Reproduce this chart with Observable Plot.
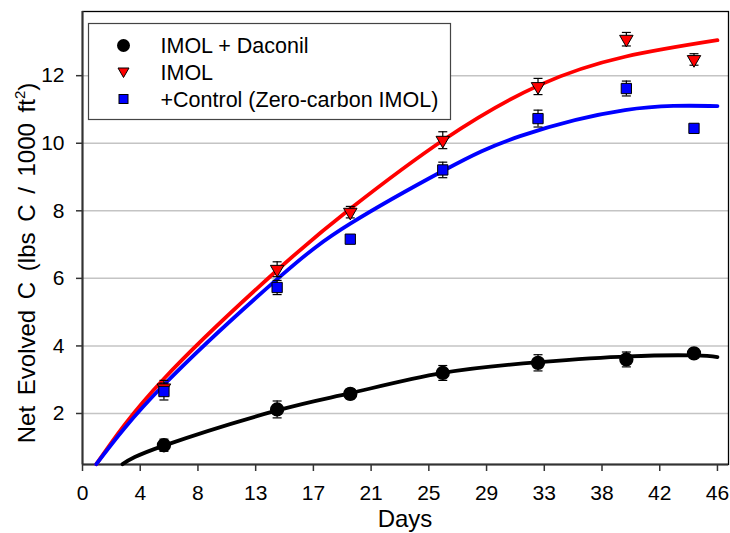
<!DOCTYPE html>
<html>
<head>
<meta charset="utf-8">
<script src="https://cdn.jsdelivr.net/npm/d3@7"></script>
<script src="https://cdn.jsdelivr.net/npm/@observablehq/plot@0.6"></script>
<style>
  html, body { margin: 0; padding: 0; background: #fff; }
  #chart svg { display: block; }
</style>
</head>
<body>
<div id="chart"></div>
<script>
// Sampling days for the three treatments
const days = [5.9, 14.1, 19.4, 26.1, 33.0, 39.4, 44.3];

// IMOL + Daconil
const daconil    = [1.06, 2.12, 2.58, 3.20, 3.50, 3.60, 3.78];
const daconilErr = [0.18, 0.25, 0.15, 0.22, 0.24, 0.22, 0.10];

// IMOL
const imol    = [2.76, 6.27, 7.96, 10.09, 11.68, 13.08, 12.48];
const imolErr = [0.22, 0.22, 0.17, 0.25, 0.24, 0.20, 0.17];

// +Control (zero-carbon IMOL)
const control    = [2.65, 5.73, 7.16, 9.21, 10.73, 11.62, 10.44];
const controlErr = [0.25, 0.21, 0.12, 0.23, 0.25, 0.22, 0.12];

// Fitted regression curves
const daconilFitDays = [2.9, 5.9, 14.1, 19.4, 26.1, 33.1, 39.5, 44.3, 46];
const daconilFit     = [0.50, 1.05, 2.09, 2.60, 3.20, 3.52, 3.69, 3.72, 3.67];
const imolFitDays    = [1, 5.9, 14.1, 19.4, 26.2, 33.1, 39.3, 46];
const imolFit        = [0.50, 3.03, 6.24, 8.06, 10.11, 11.72, 12.56, 13.05];
const controlFitDays = [1, 5.9, 14.0, 19.4, 26.2, 31.7, 39.3, 46];
const controlFit     = [0.50, 2.85, 5.94, 7.62, 9.20, 10.21, 10.98, 11.10];

// Axis ticks
const xTickLabels = ["0", "4", "8", "13", "17", "21", "25", "29", "33", "38", "42", "46"];
const xTickValues = xTickLabels.map((_, i) => 46 * i / 11);
const yTickValues = [2, 4, 6, 8, 10, 12];

const seriesNames = ["IMOL + Daconil", "IMOL", "+Control (Zero-carbon IMOL)"];

const toPoints = (xs, ys, err) => xs.map((x, i) => ({
  x, y: ys[i], lo: err ? ys[i] - err[i] : null, hi: err ? ys[i] + err[i] : null
}));
const ptsDaconil = toPoints(days, daconil, daconilErr);
const ptsImol = toPoints(days, imol, imolErr);
const ptsControl = toPoints(days, control, controlErr);
const allPts = [...ptsDaconil, ...ptsImol, ...ptsControl];

// short horizontal line used as error-bar cap
const capSymbol = { draw(ctx) { ctx.moveTo(-4.5, 0); ctx.lineTo(4.5, 0); } };

const font = "'Liberation Sans', Arial, Helvetica, sans-serif";

const chart = Plot.plot({
  width: 730,
  height: 533,
  marginLeft: 82,
  marginTop: 11,
  marginRight: 2,
  marginBottom: 69,
  style: { fontFamily: font, fontSize: "21px", background: "#fff", color: "#000", overflow: "visible" },
  x: { domain: [0, 46.8] },
  y: { domain: [0.49, 13.9] },
  marks: [
    Plot.gridY(yTickValues, { stroke: "#c4c4c4", strokeOpacity: 1, strokeWidth: 1.5 }),
    Plot.frame({ stroke: "#000", strokeWidth: 1.3 }),
    Plot.axisX(xTickValues, {
      tickSize: 7, tickPadding: 14, stroke: "#333", strokeWidth: 1.5,
      tickFormat: (d, i) => xTickLabels[i], label: null, fontSize: 21
    }),
    Plot.axisY(yTickValues, {
      tickSize: 6, tickPadding: 12, stroke: "#333", strokeWidth: 1.5,
      label: null, fontSize: 21
    }),
    Plot.ruleX([0], { stroke: "#333", strokeWidth: 2 }),
    Plot.ruleY([0.49], { stroke: "#333", strokeWidth: 2 }),

    // fitted curves
    Plot.line(toPoints(daconilFitDays, daconilFit), { x: "x", y: "y", stroke: "#000", strokeWidth: 3.8, curve: "natural" }),
    Plot.line(toPoints(imolFitDays, imolFit), { x: "x", y: "y", stroke: "#ff0000", strokeWidth: 3.8, curve: "natural" }),
    Plot.line(toPoints(controlFitDays, controlFit), { x: "x", y: "y", stroke: "#0000ff", strokeWidth: 3.8, curve: "natural" }),

    // error bars
    Plot.ruleX(allPts, { x: "x", y1: "lo", y2: "hi", stroke: "#000", strokeWidth: 1.2 }),
    Plot.dot(allPts, { x: "x", y: "hi", symbol: capSymbol, fill: "none", stroke: "#000", strokeWidth: 1.2 }),
    Plot.dot(allPts, { x: "x", y: "lo", symbol: capSymbol, fill: "none", stroke: "#000", strokeWidth: 1.2 }),

    // observations
    Plot.dot(ptsDaconil, { x: "x", y: "y", symbol: "circle", r: 6.4, fill: "#000", stroke: "#000" }),
    Plot.dot(ptsImol, { x: "x", y: "y", symbol: "triangle", r: 5, rotate: 180, fill: "#ff0000", stroke: "#000", strokeWidth: 1 }),
    Plot.dot(ptsControl, { x: "x", y: "y", symbol: "square", r: 5.8, fill: "#0000ff", stroke: "#000", strokeWidth: 1 })
  ]
});

document.getElementById("chart").appendChild(chart);

const svg = d3.select(chart);

// axis titles
const yTitle = svg.append("text")
  .attr("transform", "translate(35,263) rotate(-90)")
  .attr("text-anchor", "middle")
  .attr("font-family", font)
  .attr("font-size", 24)
  .attr("word-spacing", "4px")
  .attr("fill", "#000");
yTitle.append("tspan").text("Net Evolved C (lbs C / 1000 ft");
yTitle.append("tspan").attr("font-size", 15).attr("dy", -10).text("2");
yTitle.append("tspan").attr("dy", 10).text(")");

svg.append("text")
  .attr("x", 405).attr("y", 527)
  .attr("text-anchor", "middle")
  .attr("font-family", font)
  .attr("font-size", 24)
  .attr("fill", "#000")
  .text("Days");

// legend
const legend = svg.append("g")
  .attr("font-family", font)
  .attr("font-size", 21.5)
  .attr("text-anchor", "start");
legend.append("rect")
  .attr("x", 88.5).attr("y", 23.5).attr("width", 362).attr("height", 96)
  .attr("fill", "#fff").attr("stroke", "#444").attr("stroke-width", 1.2);

const rowY = [45.5, 72.5, 99];
const symX = 123.5;
legend.append("circle").attr("cx", symX).attr("cy", rowY[0]).attr("r", 6.5).attr("fill", "#000");
legend.append("path")
  .attr("d", `M${symX - 5.5},${rowY[1] - 4.5}L${symX + 5.5},${rowY[1] - 4.5}L${symX},${rowY[1] + 5}Z`)
  .attr("fill", "#ff0000").attr("stroke", "#000").attr("stroke-width", 1);
legend.append("rect")
  .attr("x", symX - 4.5).attr("y", rowY[2] - 4.5).attr("width", 9).attr("height", 9)
  .attr("fill", "#0000ff").attr("stroke", "#000").attr("stroke-width", 1);

seriesNames.forEach((name, i) => {
  legend.append("text")
    .attr("x", 160.5).attr("y", rowY[i] + 7.5)
    .attr("text-anchor", "start")
    .attr("fill", "#000")
    .text(name);
});
</script>
</body>
</html>
